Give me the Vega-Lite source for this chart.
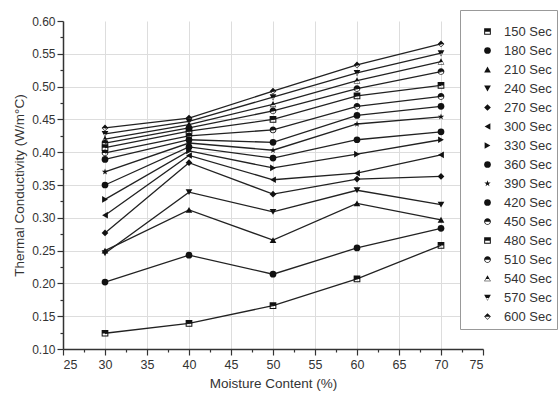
{
  "$schema": "https://vega.github.io/schema/vega-lite/v6.json",
  "width": 420,
  "height": 328,
  "autosize": {"type": "none"},
  "padding": {"left": 63, "top": 21, "right": 75, "bottom": 49},
  "background": "white",
  "config": {"view": {"stroke": null}, "font": "Liberation Sans"},
  "data": {"values": [
    {"series": "150 Sec", "mc": 30, "k": 0.124}, {"series": "150 Sec", "mc": 40, "k": 0.139}, {"series": "150 Sec", "mc": 50, "k": 0.166}, {"series": "150 Sec", "mc": 60, "k": 0.207}, {"series": "150 Sec", "mc": 70, "k": 0.258},
    {"series": "180 Sec", "mc": 30, "k": 0.202}, {"series": "180 Sec", "mc": 40, "k": 0.243}, {"series": "180 Sec", "mc": 50, "k": 0.214}, {"series": "180 Sec", "mc": 60, "k": 0.254}, {"series": "180 Sec", "mc": 70, "k": 0.284},
    {"series": "210 Sec", "mc": 30, "k": 0.250}, {"series": "210 Sec", "mc": 40, "k": 0.312}, {"series": "210 Sec", "mc": 50, "k": 0.266}, {"series": "210 Sec", "mc": 60, "k": 0.322}, {"series": "210 Sec", "mc": 70, "k": 0.297},
    {"series": "240 Sec", "mc": 30, "k": 0.246}, {"series": "240 Sec", "mc": 40, "k": 0.339}, {"series": "240 Sec", "mc": 50, "k": 0.309}, {"series": "240 Sec", "mc": 60, "k": 0.342}, {"series": "240 Sec", "mc": 70, "k": 0.320},
    {"series": "270 Sec", "mc": 30, "k": 0.277}, {"series": "270 Sec", "mc": 40, "k": 0.384}, {"series": "270 Sec", "mc": 50, "k": 0.336}, {"series": "270 Sec", "mc": 60, "k": 0.359}, {"series": "270 Sec", "mc": 70, "k": 0.363},
    {"series": "300 Sec", "mc": 30, "k": 0.304}, {"series": "300 Sec", "mc": 40, "k": 0.395}, {"series": "300 Sec", "mc": 50, "k": 0.358}, {"series": "300 Sec", "mc": 60, "k": 0.368}, {"series": "300 Sec", "mc": 70, "k": 0.396},
    {"series": "330 Sec", "mc": 30, "k": 0.328}, {"series": "330 Sec", "mc": 40, "k": 0.402}, {"series": "330 Sec", "mc": 50, "k": 0.376}, {"series": "330 Sec", "mc": 60, "k": 0.397}, {"series": "330 Sec", "mc": 70, "k": 0.419},
    {"series": "360 Sec", "mc": 30, "k": 0.350}, {"series": "360 Sec", "mc": 40, "k": 0.408}, {"series": "360 Sec", "mc": 50, "k": 0.391}, {"series": "360 Sec", "mc": 60, "k": 0.419}, {"series": "360 Sec", "mc": 70, "k": 0.431},
    {"series": "390 Sec", "mc": 30, "k": 0.370}, {"series": "390 Sec", "mc": 40, "k": 0.414}, {"series": "390 Sec", "mc": 50, "k": 0.403}, {"series": "390 Sec", "mc": 60, "k": 0.443}, {"series": "390 Sec", "mc": 70, "k": 0.454},
    {"series": "420 Sec", "mc": 30, "k": 0.389}, {"series": "420 Sec", "mc": 40, "k": 0.419}, {"series": "420 Sec", "mc": 50, "k": 0.415}, {"series": "420 Sec", "mc": 60, "k": 0.456}, {"series": "420 Sec", "mc": 70, "k": 0.470},
    {"series": "450 Sec", "mc": 30, "k": 0.399}, {"series": "450 Sec", "mc": 40, "k": 0.425}, {"series": "450 Sec", "mc": 50, "k": 0.434}, {"series": "450 Sec", "mc": 60, "k": 0.470}, {"series": "450 Sec", "mc": 70, "k": 0.485},
    {"series": "480 Sec", "mc": 30, "k": 0.407}, {"series": "480 Sec", "mc": 40, "k": 0.432}, {"series": "480 Sec", "mc": 50, "k": 0.450}, {"series": "480 Sec", "mc": 60, "k": 0.486}, {"series": "480 Sec", "mc": 70, "k": 0.502},
    {"series": "510 Sec", "mc": 30, "k": 0.414}, {"series": "510 Sec", "mc": 40, "k": 0.437}, {"series": "510 Sec", "mc": 50, "k": 0.463}, {"series": "510 Sec", "mc": 60, "k": 0.497}, {"series": "510 Sec", "mc": 70, "k": 0.523},
    {"series": "540 Sec", "mc": 30, "k": 0.420}, {"series": "540 Sec", "mc": 40, "k": 0.442}, {"series": "540 Sec", "mc": 50, "k": 0.473}, {"series": "540 Sec", "mc": 60, "k": 0.509}, {"series": "540 Sec", "mc": 70, "k": 0.538},
    {"series": "570 Sec", "mc": 30, "k": 0.428}, {"series": "570 Sec", "mc": 40, "k": 0.447}, {"series": "570 Sec", "mc": 50, "k": 0.484}, {"series": "570 Sec", "mc": 60, "k": 0.521}, {"series": "570 Sec", "mc": 70, "k": 0.551},
    {"series": "600 Sec", "mc": 30, "k": 0.437}, {"series": "600 Sec", "mc": 40, "k": 0.452}, {"series": "600 Sec", "mc": 50, "k": 0.493}, {"series": "600 Sec", "mc": 60, "k": 0.533}, {"series": "600 Sec", "mc": 70, "k": 0.565}
  ]},
  "encoding": {
    "x": {
      "field": "mc", "type": "quantitative",
      "scale": {"domain": [25, 75], "nice": false, "zero": false},
      "axis": {
        "title": "Moisture Content (%)",
        "values": [25, 27.5, 30, 32.5, 35, 37.5, 40, 42.5, 45, 47.5, 50, 52.5, 55, 57.5, 60, 62.5, 65, 67.5, 70, 72.5, 75],
        "labelExpr": "datum.value % 5 === 0 ? datum.label : ''",
        "tickSize": {"condition": {"test": "datum.value % 5 !== 0", "value": 3}, "value": 6},
        "grid": true,
        "gridColor": "#dddddd",
        "gridOpacity": {"condition": {"test": "datum.value % 5 !== 0 || datum.value == 25 || datum.value == 75", "value": 0}, "value": 1},
        "domainColor": "#333333", "domainWidth": 1.5,
        "tickColor": "#333333", "tickWidth": 1.2,
        "labelColor": "#333333", "labelFontSize": 12.5, "labelPadding": 3,
        "titleColor": "#333333", "titleFontSize": 13.5, "titleFontWeight": "normal", "titlePadding": 6
      }
    },
    "y": {
      "field": "k", "type": "quantitative",
      "scale": {"domain": [0.1, 0.6], "nice": false, "zero": false},
      "axis": {
        "title": "Thermal Conductivity (W/m°C)",
        "values": [0.1, 0.125, 0.15, 0.175, 0.2, 0.225, 0.25, 0.275, 0.3, 0.325, 0.35, 0.375, 0.4, 0.425, 0.45, 0.475, 0.5, 0.525, 0.55, 0.575, 0.6],
        "labelExpr": "abs(round(datum.value * 20) - datum.value * 20) < 0.001 ? format(datum.value, '.2f') : ''",
        "tickSize": {"condition": {"test": "abs(round(datum.value * 20) - datum.value * 20) > 0.001", "value": 3}, "value": 6},
        "grid": true,
        "gridColor": "#dddddd",
        "gridOpacity": {"condition": {"test": "abs(round(datum.value * 20) - datum.value * 20) > 0.001 || datum.value < 0.11 || datum.value > 0.59", "value": 0}, "value": 1},
        "domainColor": "#333333", "domainWidth": 1.5,
        "tickColor": "#333333", "tickWidth": 1.2,
        "labelColor": "#333333", "labelFontSize": 12, "labelPadding": 2,
        "titleColor": "#333333", "titleFontSize": 13.5, "titleFontWeight": "normal", "titlePadding": 5
      }
    }
  },
  "layer": [
    {
      "mark": {"type": "line", "color": "#222222", "strokeWidth": 1.3},
      "encoding": {"detail": {"field": "series"}}
    },
    {
      "mark": {"type": "point", "filled": true, "color": "#111111", "opacity": 1, "size": 45},
      "encoding": {
        "shape": {
          "field": "series", "type": "nominal",
          "scale": {
            "domain": ["150 Sec", "180 Sec", "210 Sec", "240 Sec", "270 Sec", "300 Sec", "330 Sec", "360 Sec", "390 Sec", "420 Sec", "450 Sec", "480 Sec", "510 Sec", "540 Sec", "570 Sec", "600 Sec"],
            "range": [
              "M-1,-1L1,-1L1,1L-1,1ZM-0.7,0.05L-0.7,0.7L0.7,0.7L0.7,0.05Z",
              "circle",
              "triangle-up",
              "triangle-down",
              "diamond",
              "triangle-left",
              "triangle-right",
              "circle",
              "M0,-1L0.2245,-0.309L0.951,-0.309L0.363,0.118L0.588,0.809L0,0.382L-0.588,0.809L-0.363,0.118L-0.951,-0.309L-0.2245,-0.309Z",
              "circle",
              "M-1,0A1,1,0,1,1,1,0A1,1,0,1,1,-1,0ZM0.72,0.06L-0.72,0.06A0.72,0.72,0,0,0,0.72,0.06Z",
              "M-1,-1L1,-1L1,1L-1,1ZM-0.7,0.05L-0.7,0.7L0.7,0.7L0.7,0.05Z",
              "M-1,0A1,1,0,1,1,1,0A1,1,0,1,1,-1,0ZM0.72,0.06L-0.72,0.06A0.72,0.72,0,0,0,0.72,0.06Z",
              "M0,-1L1,0.85L-1,0.85ZM-0.45,0.12L-0.78,0.68L0.78,0.68L0.45,0.12Z",
              "M-1,-0.85L1,-0.85L0,1ZM-0.38,0.12L0,0.72L0.38,0.12Z",
              "M0,-1L1,0L0,1L-1,0ZM-0.7,0.08L0,0.78L0.7,0.08Z"
            ]
          },
          "legend": {
            "title": " ",
            "titleFontSize": 8,
            "titlePadding": 2,
            "orient": "none",
            "legendX": 397,
            "legendY": -11,
            "fillColor": "white",
            "strokeColor": "#999999",
            "padding": 5,
            "symbolOffset": 16,
            "labelOffset": 10,
            "labelFontSize": 13,
            "labelFont": "Liberation Sans",
            "labelColor": "#333333",
            "rowPadding": 5,
            "symbolFillColor": "#111111",
            "symbolStrokeWidth": 0,
            "symbolSize": 45
          }
        }
      }
    }
  ]
}
